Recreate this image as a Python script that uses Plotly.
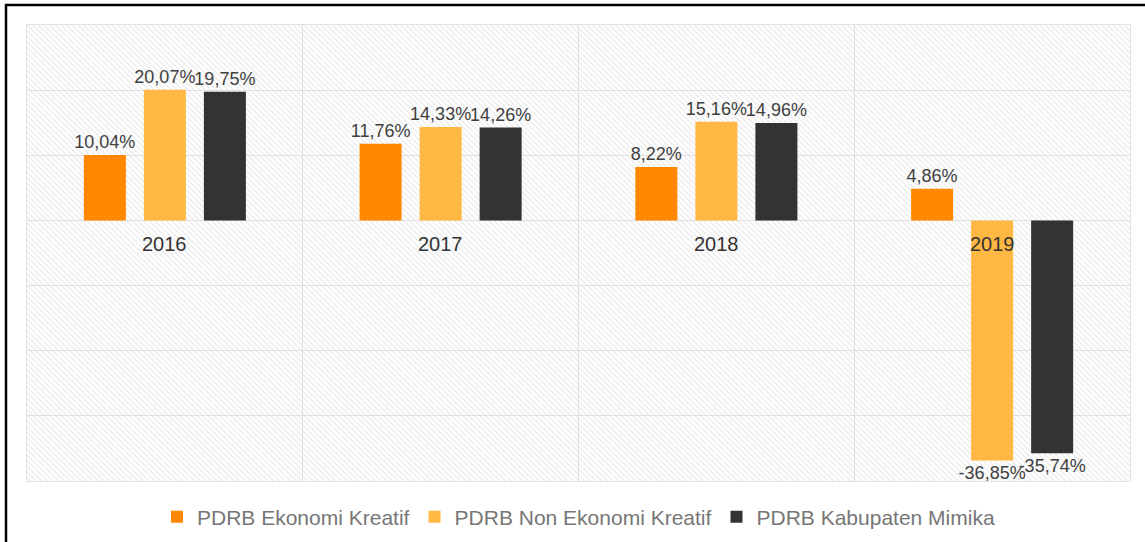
import plotly.graph_objects as go

years = ["2016", "2017", "2018", "2019"]
series_names = ["PDRB Ekonomi Kreatif", "PDRB Non Ekonomi Kreatif", "PDRB Kabupaten Mimika"]
ekraf = [10.04, 11.76, 8.22, 4.86]
non_ekraf = [20.07, 14.33, 15.16, -36.85]
mimika = [19.75, 14.26, 14.96, -35.74]
colors = ["#FF8800", "#FFB843", "#333333"]

W, H = 1145, 542
L, R, T, B = 27, 15, 25, 61
pw, ph = W - L - R, H - T - B

def fmt(v):
    return f"{v:.2f}".replace(".", ",") + "%"

fig = go.Figure()

# hatched background
fig.add_trace(go.Bar(
    x=[0.5], y=[70], base=[-40], width=[1], xaxis="x", yaxis="y",
    marker=dict(color="rgba(0,0,0,0)", line=dict(width=0),
                pattern=dict(shape="\\", fgcolor="#d8d8d8", bgcolor="rgba(0,0,0,0)",
                             size=4, solidity=0.35)),
    showlegend=False, hoverinfo="skip",
))

for name, vals, c in zip(series_names, [ekraf, non_ekraf, mimika], colors):
    fig.add_trace(go.Bar(
        x=years, y=vals, name=name, xaxis="x2", yaxis="y",
        marker=dict(color=c, line=dict(width=0)),
        text=[fmt(v) for v in vals], textposition="outside",
        textfont=dict(family="Liberation Sans, Arial", size=18, color="#404040"),
        constraintext="none", cliponaxis=False,
    ))

annotations = [
    dict(x=(i + 0.5) / len(years), y=0, xref="paper", yref="y", text=y, showarrow=False,
         xanchor="center", yanchor="top", yshift=-11,
         font=dict(family="Liberation Sans, Arial", size=20, color="#333333"))
    for i, y in enumerate(years)
]

fig.update_layout(
    width=W, height=H,
    margin=dict(l=L, r=R, t=T, b=B),
    paper_bgcolor="white", plot_bgcolor="white",
    barmode="group", bargap=0.347, bargroupgap=0.30,
    xaxis=dict(range=[0, 1], visible=False, showgrid=False, fixedrange=True),
    xaxis2=dict(overlaying="x", type="category", showticklabels=False, tickson="boundaries",
                showgrid=True, gridcolor="#e2e2e2", gridwidth=1, ticks="",
                showline=True, linecolor="#e2e2e2", mirror=True, range=[-0.5, 3.5]),
    yaxis=dict(range=[-40, 30], dtick=10, showticklabels=False, showgrid=True,
               gridcolor="#e2e2e2", zeroline=True, zerolinecolor="#e2e2e2", zerolinewidth=1,
               showline=True, linecolor="#e2e2e2", mirror=True),
    legend=dict(orientation="h", x=0.5, xanchor="center",
                yref="container", y=(H - 517) / H, yanchor="middle",
                font=dict(family="Liberation Sans, Arial", size=21, color="#767676"),
                itemwidth=30, traceorder="normal"),
    annotations=annotations,
    shapes=[dict(type="rect", xref="paper", yref="paper",
                 x0=(6 - L) / pw, x1=(W + 10 - L) / pw,
                 y0=(T + ph - (H + 10)) / ph, y1=(T + ph - 5) / ph,
                 line=dict(color="black", width=2.5), fillcolor="rgba(0,0,0,0)")],
    showlegend=True,
)

fig.write_html("out.html", config={"displayModeBar": False},
               post_script="document.body.style.margin='0';document.body.style.overflow='hidden';")
